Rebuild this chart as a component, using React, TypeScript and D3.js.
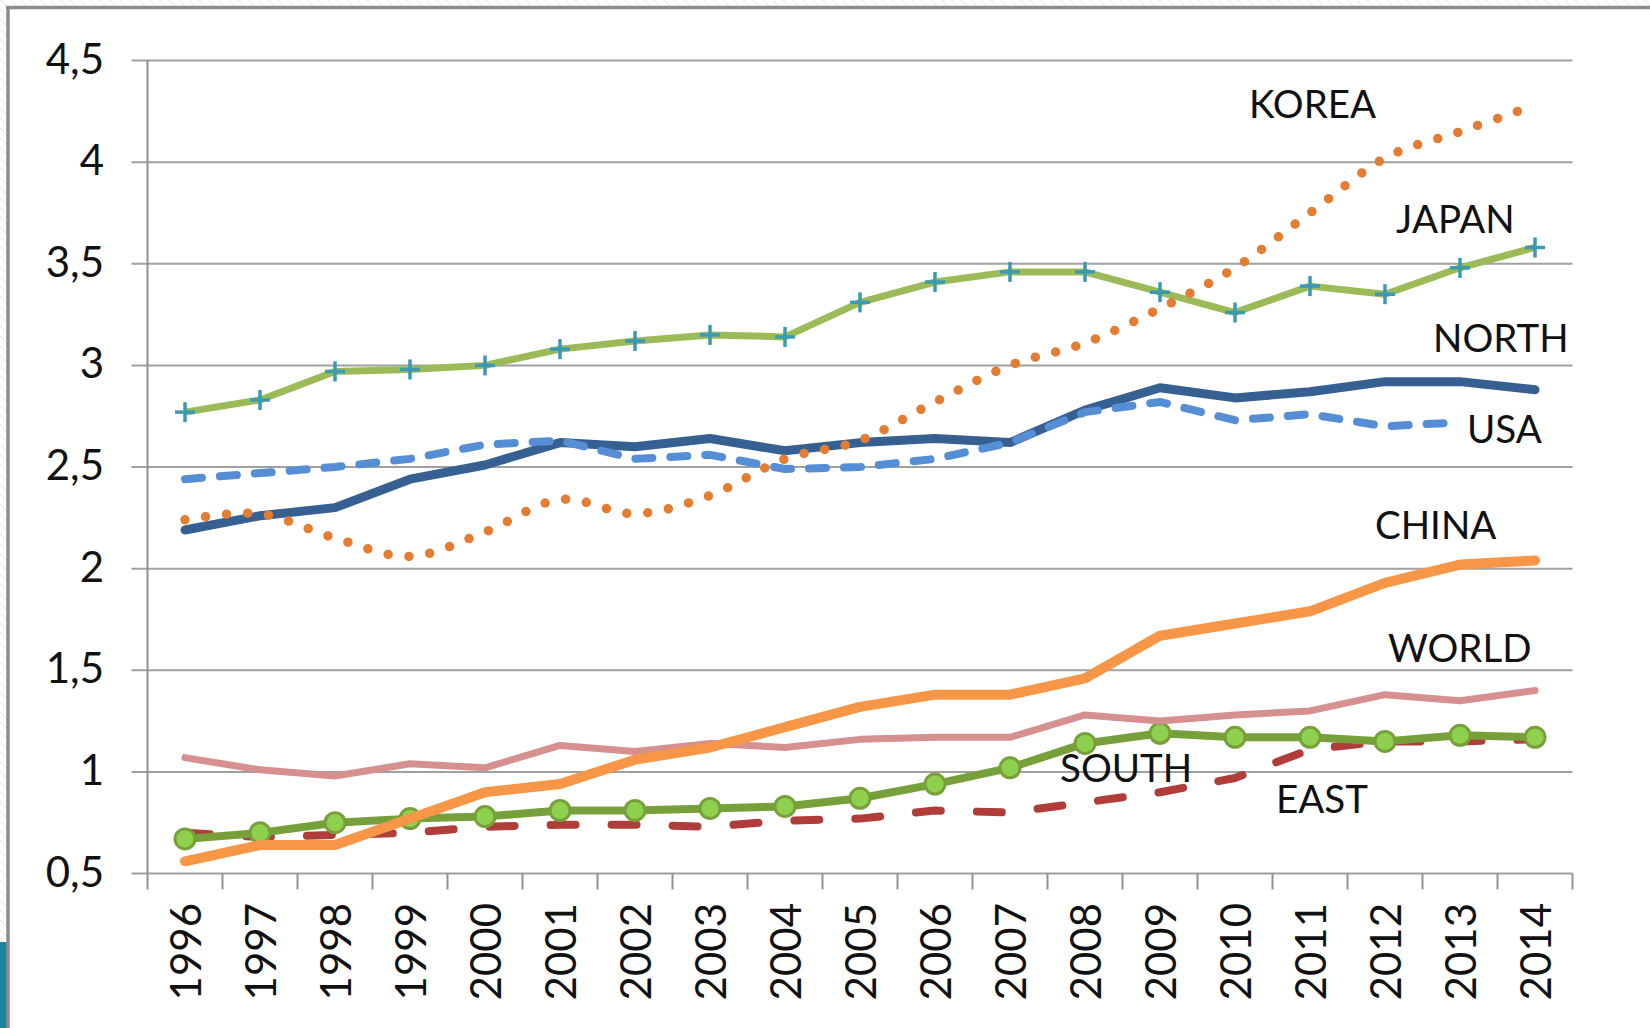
import React from 'react';
import * as d3 from 'd3';

const years = ['1996','1997','1998','1999','2000','2001','2002','2003','2004','2005','2006','2007','2008','2009','2010','2011','2012','2013','2014'];
const yTicks = [0.5, 1, 1.5, 2, 2.5, 3, 3.5, 4, 4.5];
const yTickLabels = ['0,5', '1', '1,5', '2', '2,5', '3', '3,5', '4', '4,5'];

const japan = [2.77, 2.83, 2.97, 2.98, 3.0, 3.08, 3.12, 3.15, 3.14, 3.31, 3.41, 3.46, 3.46, 3.36, 3.26, 3.39, 3.35, 3.48, 3.58];
const korea = [2.24, 2.27, 2.15, 2.06, 2.18, 2.34, 2.27, 2.36, 2.54, 2.63, 2.82, 3.0, 3.11, 3.28, 3.48, 3.75, 4.02, 4.15, 4.28];
const north = [2.19, 2.26, 2.3, 2.44, 2.51, 2.62, 2.6, 2.64, 2.58, 2.62, 2.64, 2.62, 2.78, 2.89, 2.84, 2.87, 2.92, 2.92, 2.88];
const usa: (number | null)[] = [2.44, 2.47, 2.5, 2.54, 2.61, 2.63, 2.54, 2.56, 2.49, 2.5, 2.54, 2.62, 2.77, 2.82, 2.73, 2.76, 2.7, 2.72, null];
const china = [0.56, 0.64, 0.64, 0.77, 0.9, 0.94, 1.06, 1.12, 1.22, 1.32, 1.38, 1.38, 1.46, 1.67, 1.73, 1.79, 1.93, 2.02, 2.04];
const world = [1.07, 1.01, 0.98, 1.04, 1.02, 1.13, 1.1, 1.14, 1.12, 1.16, 1.17, 1.17, 1.28, 1.25, 1.28, 1.3, 1.38, 1.35, 1.4];
const south = [0.67, 0.7, 0.75, 0.77, 0.78, 0.81, 0.81, 0.82, 0.83, 0.87, 0.94, 1.02, 1.14, 1.19, 1.17, 1.17, 1.15, 1.18, 1.17];
const east = [0.7, 0.68, 0.69, 0.7, 0.73, 0.74, 0.74, 0.73, 0.76, 0.77, 0.81, 0.8, 0.85, 0.9, 0.97, 1.11, 1.15, 1.15, 1.16];

const seriesLabels = [
  { text: 'KOREA', x: 1249, y: 118 },
  { text: 'JAPAN', x: 1396, y: 233 },
  { text: 'NORTH', x: 1433, y: 352 },
  { text: 'USA', x: 1467, y: 443 },
  { text: 'CHINA', x: 1375, y: 539 },
  { text: 'WORLD', x: 1388, y: 662 },
  { text: 'SOUTH', x: 1060, y: 782 },
  { text: 'EAST', x: 1276, y: 813 },
];

const W = 1650;
const H = 1028;
const left = 147.5;
const right = 1572.5;
const top = 60.5;
const bottom = 873.5;
const FONT = 'Lato, "Open Sans", sans-serif';

export default function App() {
  const x = d3.scaleBand<string>().domain(years).range([left, right]).padding(0);
  const bw = x.bandwidth();
  const cx = (i: number) => (x(years[i]) as number) + bw / 2;
  const y = d3.scaleLinear().domain([0.5, 4.5]).range([bottom, top]);

  const mkLine = (curve: d3.CurveFactory = d3.curveLinear) =>
    d3
      .line<number | null>()
      .defined((d) => d !== null)
      .x((_, i) => cx(i))
      .y((d) => y(d as number))
      .curve(curve);

  const lin = mkLine();
  const smooth = mkLine(d3.curveCatmullRom.alpha(0));

  const boundaries = years.map((yr) => x(yr) as number).concat([right]);

  return (
    <svg width={W} height={H} style={{ position: 'absolute', left: 0, top: 0 }}>
      <defs>
        <pattern id="hatch" width="7" height="7" patternUnits="userSpaceOnUse" patternTransform="rotate(-45)">
          <line x1="0" y1="0" x2="0" y2="7" stroke="#dcdcdc" strokeWidth="1.2" />
        </pattern>
      </defs>
      <rect x={0} y={0} width={W} height={H} fill="#ffffff" />
      <rect x={0} y={0} width={W} height={H} fill="url(#hatch)" />
      <rect x={0} y={942} width={7} height={H - 942} fill="#17869f" />
      <rect x={8} y={8} width={W} height={H} fill="#ffffff" />
      <line x1={8} y1={6} x2={8} y2={H} stroke="#8c8c8c" strokeWidth={3.5} />
      <line x1={6} y1={7.5} x2={W} y2={7.5} stroke="#8c8c8c" strokeWidth={3.5} />

      {/* gridlines and y ticks */}
      {yTicks.map((t) => (
        <line key={'g' + t} x1={left - 16} x2={right} y1={y(t)} y2={y(t)} stroke="#a0a0a0" strokeWidth={2} />
      ))}
      <line x1={left} x2={left} y1={top} y2={bottom} stroke="#909090" strokeWidth={2} />
      {boundaries.map((b, i) => (
        <line key={'xt' + i} x1={b} x2={b} y1={bottom} y2={bottom + 16} stroke="#909090" strokeWidth={2} />
      ))}
      {yTicks.map((t, i) => (
        <text
          key={'yl' + t}
          x={104}
          y={y(t) + 13}
          textAnchor="end"
          fontFamily={FONT}
          fontSize={42}
          fill="#111"
        >
          {yTickLabels[i]}
        </text>
      ))}
      {years.map((yr, i) => (
        <text
          key={'xl' + yr}
          transform={`translate(${cx(i)},${903}) rotate(-90)`}
          textAnchor="end"
          dy="0.38em"
          fontFamily={FONT}
          fontSize={42}
          fill="#111"
        >
          {yr}
        </text>
      ))}

      {/* EAST */}
      <path d={lin(east) || ''} fill="none" stroke="#b03d3a" strokeWidth={8} strokeDasharray="25 36" strokeLinecap="round" strokeLinejoin="round" />
      {/* SOUTH */}
      <path d={lin(south) || ''} fill="none" stroke="#77a03a" strokeWidth={8} strokeLinejoin="round" />
      {south.map((v, i) => (
        <circle key={'s' + i} cx={cx(i)} cy={y(v)} r={10} fill="#8fd14f" stroke="#77a03a" strokeWidth={3} />
      ))}
      {/* WORLD */}
      <path d={lin(world) || ''} fill="none" stroke="#d6908f" strokeWidth={7} strokeLinejoin="round" strokeLinecap="round" />
      {/* CHINA */}
      <path d={lin(china) || ''} fill="none" stroke="#f79646" strokeWidth={10} strokeLinejoin="round" strokeLinecap="round" />
      {/* NORTH */}
      <path d={lin(north) || ''} fill="none" stroke="#376092" strokeWidth={9} strokeLinejoin="round" strokeLinecap="round" />
      {/* USA */}
      <path d={lin(usa) || ''} fill="none" stroke="#558ed5" strokeWidth={8} strokeDasharray="17 18" strokeLinecap="round" strokeLinejoin="round" />
      {/* JAPAN */}
      <path d={lin(japan) || ''} fill="none" stroke="#9bbb59" strokeWidth={7} strokeLinejoin="round" />
      {japan.map((v, i) => (
        <g key={'j' + i} stroke="#3a9ab3" strokeWidth={3.5}>
          <line x1={cx(i) - 10} x2={cx(i) + 10} y1={y(v)} y2={y(v)} />
          <line x1={cx(i)} x2={cx(i)} y1={y(v) - 10} y2={y(v) + 10} />
        </g>
      ))}
      {/* KOREA */}
      <path d={smooth(korea) || ''} fill="none" stroke="#e47d32" strokeWidth={9.5} strokeDasharray="0 21" strokeLinecap="round" />

      {seriesLabels.map((l) => (
        <text key={l.text} x={l.x} y={l.y} fontFamily={FONT} fontSize={38.5} fill="#111">
          {l.text}
        </text>
      ))}
    </svg>
  );
}
